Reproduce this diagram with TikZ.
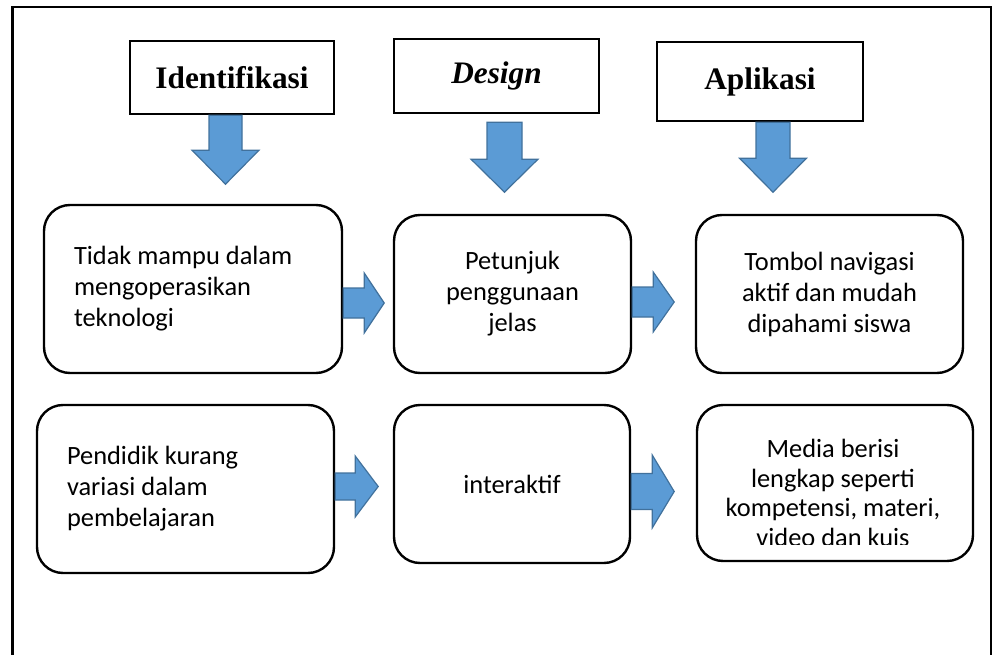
\documentclass[tikz,border=0pt]{standalone}
\usepackage{fontspec}
\usepackage{tikz}
\usetikzlibrary{positioning, calc}
\newfontfamily\boxfont{Carlito}
\newfontfamily\headfont{Liberation Serif}
\definecolor{arrowblue}{RGB}{91,155,213}
\definecolor{arrowedge}{RGB}{65,113,156}

\begin{document}
\begin{tikzpicture}[
    x=1pt, y=-1pt,
    frame/.style={line width=2.5pt},
    stage/.style={draw, line width=2.4pt, inner sep=0pt, font=\headfont\fontsize{31.3}{36}\selectfont\bfseries},
    item/.style={draw, line width=2.4pt, rounded corners=26pt, inner sep=0pt, align=center, font=\boxfont\fontsize{26.4}{31}\selectfont},
    blockarrow/.style={fill=arrowblue, draw=arrowedge, line width=1.2pt, line join=miter}
]
    \useasboundingbox (0,0) rectangle (993,655);
    % Outer frame
    \draw[frame] (12.5,656) -- (12.5,7) -- (991,7) -- (991,656);

    % Stages
    \node[stage, minimum width=204pt, minimum height=73pt] (ident) at (232,77.5) {Identifikasi};
    \node[stage, minimum width=205pt, minimum height=74pt] (design) at (496.5,76) {\itshape Design};
    \node[stage, minimum width=206pt, minimum height=79pt] (aplikasi) at (760,81.5) {Aplikasi};

    % Row 1
    \node[item, minimum width=298pt, minimum height=168pt, text width=238pt, align=flush left] (tidak) at (193,289) {Tidak mampu dalam\\mengoperasikan\\teknologi};
    \node[item, minimum width=237pt, minimum height=158pt] (petunjuk) at (512.5,294) {Petunjuk\\penggunaan\\jelas};
    \node[item, minimum width=267pt, minimum height=158pt] (tombol) at (829.5,294) {Tombol navigasi\\aktif dan mudah\\dipahami siswa};

    % Row 2
    \node[item, minimum width=297pt, minimum height=168pt, text width=237pt, align=flush left] (pendidik) at (185.5,489) {Pendidik kurang\\variasi dalam\\pembelajaran};
    \node[item, minimum width=236pt, minimum height=158pt] (interaktif) at (512,484) {interaktif};
    \node[item, minimum width=276pt, minimum height=156pt] (media) at (835,483) {};
    \begin{scope}
        \clip ($(media.north west)+(-5,-5)$) rectangle ($(media.east)+(5,61)$);
        \node[align=center, inner sep=0pt, font=\boxfont\fontsize{26.4}{29.5}\selectfont] (mediatext) at (833,493) {Media berisi\\lengkap seperti\\kompetensi, materi,\\video dan kuis};
    \end{scope}

    % Down arrows
    \draw[blockarrow] ($(ident.south)+(-6.5,0)$) ++(-16.5,0) -- ++(0,35) -- ++(-17,0) -- ++(33.5,34) -- ++(33.5,-34) -- ++(-17,0) -- ++(0,-35) -- cycle;
    \draw[blockarrow] ($(design.south)+(8,8)$) ++(-17.5,0) -- ++(0,37) -- ++(-16,0) -- ++(33.5,33) -- ++(33.5,-33) -- ++(-16,0) -- ++(0,-37) -- cycle;
    \draw[blockarrow] ($(aplikasi.south)+(13,0)$) ++(-17,0) -- ++(0,36) -- ++(-16.5,0) -- ++(33.5,34) -- ++(33.5,-34) -- ++(-16.5,0) -- ++(0,-36) -- cycle;

    % Right arrows
    \draw[blockarrow] ($(tidak.east)+(0,14)$) ++(0,-15) -- ++(21,0) -- ++(0,-15) -- ++(20,30) -- ++(-20,30) -- ++(0,-15) -- ++(-21,0) -- cycle;
    \draw[blockarrow] ($(petunjuk.east)+(0,8)$) ++(0,-15) -- ++(21,0) -- ++(0,-15) -- ++(21,30) -- ++(-21,30) -- ++(0,-15) -- ++(-21,0) -- cycle;
    \draw[blockarrow] ($(pendidik.east)+(0,-2.5)$) ++(0,-13.5) -- ++(20,0) -- ++(0,-17) -- ++(23,30.5) -- ++(-23,30.5) -- ++(0,-17) -- ++(-20,0) -- cycle;
    \draw[blockarrow] ($(interaktif.east)+(0,7.5)$) ++(0,-18) -- ++(21,0) -- ++(0,-18.5) -- ++(22,36.5) -- ++(-22,36.5) -- ++(0,-18.5) -- ++(-21,0) -- cycle;
\end{tikzpicture}
\end{document}
